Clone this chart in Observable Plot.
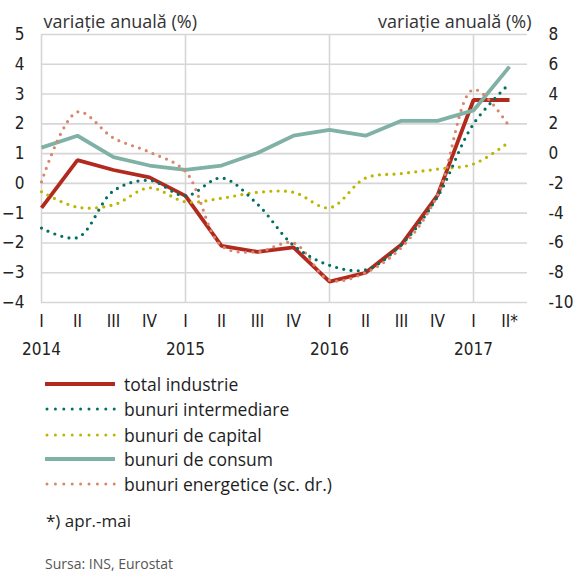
<!DOCTYPE html>
<html><head><meta charset="utf-8">
<script src="https://cdn.jsdelivr.net/npm/d3@7"></script>
<script src="https://cdn.jsdelivr.net/npm/@observablehq/plot@0.6"></script>
<style>
body{margin:0;background:#fff;color:#222;font-family:'Open Sans',sans-serif}
#wrap{position:relative;width:576px;height:574px;overflow:hidden}
.row{position:absolute;left:45px;height:22px;display:flex;align-items:center;font-size:17.5px;white-space:nowrap;color:#1e1e1e}
.row svg{margin-right:7px}
.note{position:absolute;left:46px;font-size:17px;color:#1e1e1e}
.src{position:absolute;left:45px;font-size:14px;color:#555}
</style></head>
<body><div id="wrap"><div id="chart"></div></div>
<script>
const quarters = ["I","II","III","IV","I","II","III","IV","I","II","III","IV","I","II*"];
const years = ["2014","2015","2016","2017"];
const yearStart = [0, 4, 8, 12];
const leftTicks = [-4,-3,-2,-1,0,1,2,3,4,5];

const totalIndustrie   = [-0.82, 0.78, 0.45, 0.2, -0.42, -2.1, -2.3, -2.15, -3.3, -3.0, -2.05, -0.4, 2.8, 2.8];
const bunuriIntermediare = [-1.5, -1.82, -0.25, 0.1, -0.42, 0.18, -0.7, -2.08, -2.75, -2.9, -2.05, -0.45, 2.0, 3.35];
const bunuriCapital    = [-0.28, -0.8, -0.72, -0.15, -0.62, -0.5, -0.3, -0.3, -0.82, 0.18, 0.33, 0.48, 0.65, 1.4];
const bunuriConsum     = [1.2, 1.6, 0.88, 0.6, 0.45, 0.6, 1.02, 1.6, 1.8, 1.6, 2.1, 2.1, 2.45, 3.92];
const bunuriEnergetice = [-1.9, 2.8, 1.05, 0.1, -1.2, -6.2, -6.6, -6.0, -8.5, -8.0, -6.3, -2.8, 4.3, 1.8]; // right axis

const series = [
  {name:"total industrie", values: totalIndustrie, color:"#b22a1e", dotted:false, right:false},
  {name:"bunuri intermediare", values: bunuriIntermediare, color:"#007060", dotted:true, right:false},
  {name:"bunuri de capital", values: bunuriCapital, color:"#bdb500", dotted:true, right:false},
  {name:"bunuri de consum", values: bunuriConsum, color:"#80b1a5", dotted:false, right:false},
  {name:"bunuri energetice (sc. dr.)", values: bunuriEnergetice, color:"#d8876d", dotted:true, right:true}
];
const drawOrder = ["total industrie","bunuri de consum","bunuri de capital","bunuri energetice (sc. dr.)","bunuri intermediare"];

// right axis value r maps to left value (r + 2) / 2
const toLeft = r => (r + 2) / 2;
const toRight = l => 2 * l - 2;

const rows = series.flatMap(s => s.values.map((v, i) => ({name: s.name, i, v: s.right ? toLeft(v) : v})));

const lineMarks = drawOrder.map(n => {
  const s = series.find(d => d.name === n);
  return Plot.line(rows.filter(d => d.name === n), {
    x: "i", y: "v", stroke: s.color,
    strokeWidth: s.dotted ? 3.2 : 3.8,
    strokeDasharray: s.dotted ? "0 7.3" : null,
    strokeLinecap: s.dotted ? "round" : "butt",
    strokeLinejoin: "miter",
    curve: s.dotted ? "catmull-rom" : "linear"
  });
});

const narrow = "'Liberation Sans Narrow','DejaVu Sans Condensed',sans-serif";

const chart = Plot.plot({
  width: 576, height: 362,
  marginLeft: 41, marginRight: 49, marginTop: 34, marginBottom: 60,
  style: {fontFamily: narrow, fontSize: "17px", color: "#222", background: "#fff"},
  x: {domain: [0, 13.5], axis: null},
  y: {domain: [-4, 5], axis: null},
  marks: [
    Plot.gridY(leftTicks, {stroke: "#d6d6d6", strokeOpacity: 1, strokeWidth: 1.6}),
    Plot.ruleX(yearStart, {stroke: "#d6d6d6", strokeOpacity: 1, strokeWidth: 1.6}),
    Plot.axisY(leftTicks, {anchor: "left", tickSize: 0, tickPadding: 17, label: null, fontSize: 17, fontFamily: narrow}),
    Plot.axisY(leftTicks, {anchor: "right", tickSize: 0, tickPadding: 21, label: null, tickFormat: v => String(toRight(v)), fontSize: 17, fontFamily: narrow}),
    Plot.axisX(d3.range(quarters.length), {anchor: "bottom", tickSize: 0, tickPadding: 12, label: null, tickFormat: i => quarters[i], fontSize: 17, fontFamily: narrow}),
    Plot.text(years, {x: (d, i) => yearStart[i], frameAnchor: "bottom", dy: 47, lineAnchor: "middle", fontSize: 17, fontFamily: narrow, fill: "#222"}),
    Plot.text(["variație anuală (%)"], {frameAnchor: "top-left", dx: 2, dy: -7, lineAnchor: "bottom", textAnchor: "start", fontSize: 18, fontFamily: "'Open Sans',sans-serif", fill: "#333"}),
    Plot.text(["variație anuală (%)"], {frameAnchor: "top-right", dx: 4, dy: -7, lineAnchor: "bottom", textAnchor: "end", fontSize: 18, fontFamily: "'Open Sans',sans-serif", fill: "#333"}),
    ...lineMarks
  ]
});
const wrap = document.getElementById("wrap");
document.getElementById("chart").appendChild(chart);

// legend
const legendY = [373, 398, 424, 448, 473];
series.forEach((s, k) => {
  const row = document.createElement("div");
  row.className = "row";
  row.style.top = legendY[k] + "px";
  const ns = "http://www.w3.org/2000/svg";
  const svg = document.createElementNS(ns, "svg");
  svg.setAttribute("width", 72); svg.setAttribute("height", 10);
  const ln = document.createElementNS(ns, "line");
  ln.setAttribute("x1", s.dotted ? 2 : 0); ln.setAttribute("x2", 70);
  ln.setAttribute("y1", 5); ln.setAttribute("y2", 5);
  ln.setAttribute("stroke", s.color);
  ln.setAttribute("stroke-width", s.dotted ? 3 : 4);
  if (s.dotted) { ln.setAttribute("stroke-dasharray", "0 8.4"); ln.setAttribute("stroke-linecap", "round"); }
  svg.appendChild(ln);
  row.appendChild(svg);
  const t = document.createElement("span"); t.textContent = s.name;
  row.appendChild(t);
  wrap.appendChild(row);
});
const note = document.createElement("div"); note.className = "note"; note.style.top = "509px"; note.textContent = "*) apr.-mai"; wrap.appendChild(note);
const src = document.createElement("div"); src.className = "src"; src.style.top = "554px"; src.textContent = "Sursa: INS, Eurostat"; wrap.appendChild(src);
</script>
</body></html>
